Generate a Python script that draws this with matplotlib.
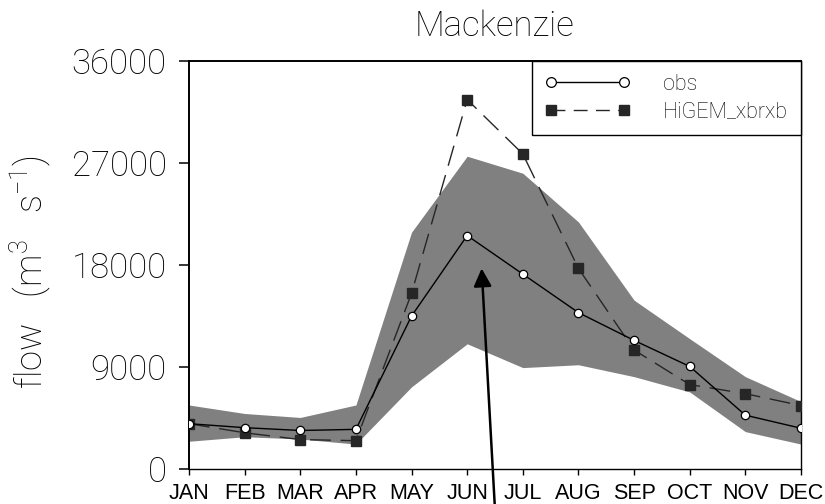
import matplotlib
matplotlib.use("Agg")
import matplotlib.pyplot as plt
from matplotlib.lines import Line2D

# Monthly mean discharge of the Mackenzie river (m^3 s^-1)
months = ["JAN", "FEB", "MAR", "APR", "MAY", "JUN",
          "JUL", "AUG", "SEP", "OCT", "NOV", "DEC"]
obs = [4000, 3650, 3400, 3500, 13500, 20600,
       17200, 13800, 11350, 9050, 4750, 3600]
higem = [4000, 3200, 2600, 2500, 15500, 32600,
         27800, 17700, 10500, 7450, 6650, 5600]
band_upper = [5650, 4900, 4550, 5650, 20900, 27600,
              26100, 21800, 14900, 11500, 8150, 5950]
band_lower = [2450, 2850, 2650, 2200, 7250, 11050,
              8950, 9200, 8150, 6800, 3300, 2200]
yticks = [0, 9000, 18000, 27000, 36000]

thin = ["Roboto", "DejaVu Sans"]
plt.rcParams["mathtext.fontset"] = "custom"
plt.rcParams["mathtext.rm"] = "Roboto:light"
plt.rcParams["mathtext.it"] = "Roboto:light"

fig = plt.figure(figsize=(8.25, 5.04), dpi=100)
ax = fig.add_axes([0.2291, 0.0694, 0.7418, 0.8095])

x = list(range(len(months)))
ax.fill_between(x, band_lower, band_upper, color="#808080", lw=0, zorder=1)

ax.plot(x, higem, color="#262626", lw=1.0, dashes=(15, 7),
        marker="s", ms=6.5, mfc="#262626", mec="#262626", zorder=3)
ax.plot(x, obs, color="black", lw=1.0,
        marker="o", ms=6.0, mfc="white", mec="black", mew=0.9, zorder=4)

ax.set_xlim(0, 11)
ax.set_ylim(0, 36000)
ax.set_xticks(x)
ax.set_xticklabels(months, family=["Liberation Sans", "DejaVu Sans"],
                   fontsize=15.5)
ax.set_yticks(yticks)
ax.set_yticklabels([str(v) for v in yticks], family=thin, weight="light",
                   fontsize=25)
ax.tick_params(axis="y", direction="out", length=7.2, width=1.1, pad=9)
ax.tick_params(axis="x", direction="out", length=4.3, width=1.0, pad=5.5)

for side in ("left", "top"):
    ax.spines[side].set_linewidth(1.4)
for side in ("right", "bottom"):
    ax.spines[side].set_linewidth(1.0)

# legend with markers at both ends of each sample line
handles = [
    Line2D([], [], color="black", lw=1.0, marker="o", ms=7, mfc="white",
           mec="black", mew=0.9),
    Line2D([], [], color="#262626", lw=1.0, dashes=(10, 6), marker="s",
           ms=7.5, mfc="#262626", mec="#262626"),
]
leg = ax.legend(handles, ["obs", "HiGEM_xbrxb"], loc="upper right",
                numpoints=2, handlelength=4.0, handletextpad=1.5,
                borderaxespad=0, borderpad=0.6, labelspacing=0.3,
                fancybox=False, framealpha=1,
                prop={"family": thin, "weight": "light", "size": 15.5})
leg.get_frame().set_edgecolor("black")
leg.get_frame().set_linewidth(1.0)
leg.set_zorder(5)

fig.text(495 / 825, 1 - 26 / 504, "Mackenzie", family=thin, weight="light",
         fontsize=25, ha="center", va="center")
fig.text(30 / 825, 1 - 272 / 504, r"flow   (m$^{3}$   s$^{-1}$)", family=thin,
         weight="light", fontsize=26, rotation=90, ha="center", va="center")

ax.annotate("", xy=(5.26, 17700), xytext=(5.50, -3600),
            arrowprops=dict(arrowstyle="-|>", lw=1.8, color="black",
                            mutation_scale=27, shrinkA=0, shrinkB=0),
            annotation_clip=False, zorder=6)

fig.savefig("out.png", dpi=100)
